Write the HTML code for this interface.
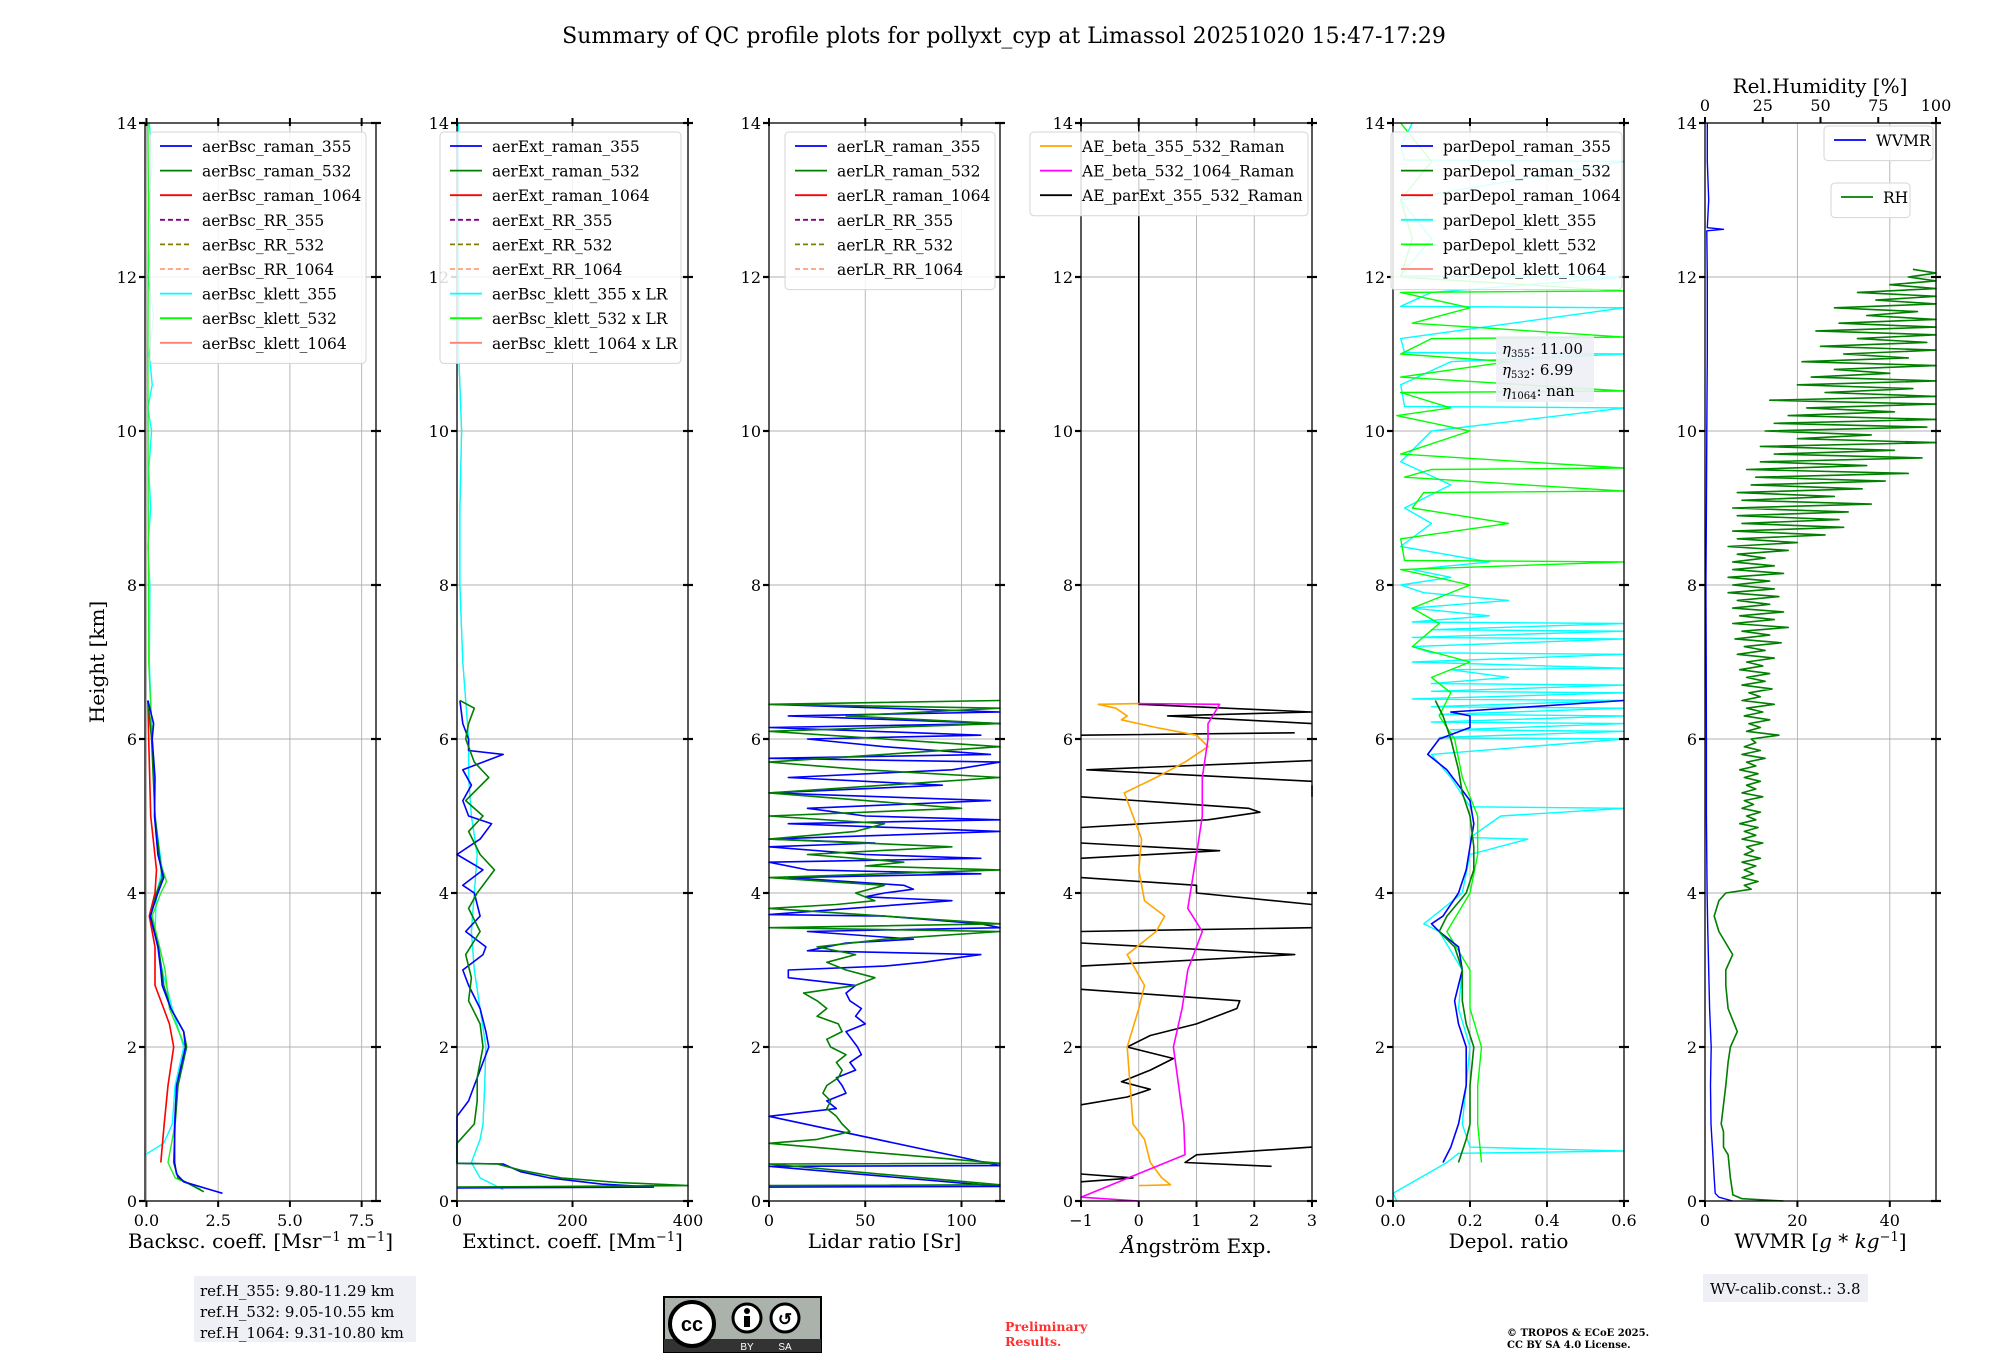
<!DOCTYPE html>
<html><head><meta charset="utf-8">
<style>
html,body{margin:0;padding:0;background:#fff;}
svg{display:block;font-family:"DejaVu Serif","Liberation Serif",serif;}
</style></head>
<body>
<svg id="fig" width="2000" height="1360" viewBox="0 0 2000 1360" xmlns="http://www.w3.org/2000/svg">
<text x="1004" y="43" font-size="22" text-anchor="middle">Summary of QC profile plots for pollyxt_cyp at Limassol 20251020 15:47-17:29</text>
<g id="plots"></g>
<rect x="194" y="1276" width="222" height="66" fill="#eef0f5"/>
<text font-size="15" x="200">
<tspan x="200" y="1296">ref.H_355: 9.80-11.29 km</tspan><tspan x="200" y="1317">ref.H_532: 9.05-10.55 km</tspan><tspan x="200" y="1338">ref.H_1064: 9.31-10.80 km</tspan></text>
<g>
<rect x="664" y="1297" width="157" height="55" fill="#aab2ab" stroke="#000" stroke-width="2"/>
<rect x="664" y="1339" width="157" height="13" fill="#333"/>
<circle cx="692" cy="1324" r="22" fill="#fff" stroke="#000" stroke-width="4"/>
<text x="692" y="1331" font-size="20" font-weight="bold" text-anchor="middle" font-family="Liberation Sans">cc</text>
<circle cx="747" cy="1318" r="14" fill="#fff" stroke="#000" stroke-width="3"/>
<circle cx="747" cy="1311" r="3"/><rect x="744" y="1316" width="6" height="11"/>
<circle cx="785" cy="1318" r="14" fill="#fff" stroke="#000" stroke-width="3"/>
<text x="785" y="1325" font-size="17" font-weight="bold" text-anchor="middle" font-family="Liberation Sans">↺</text>
<text x="747" y="1350" font-size="10" fill="#fff" text-anchor="middle" font-family="Liberation Sans">BY</text>
<text x="785" y="1350" font-size="10" fill="#fff" text-anchor="middle" font-family="Liberation Sans">SA</text>
</g>
<text x="1005" y="1331" font-size="12.5" font-weight="bold" fill="#ff3030"><tspan x="1005" y="1331">Preliminary</tspan><tspan x="1005" y="1346">Results.</tspan></text>
<text font-size="10" font-weight="bold"><tspan x="1507" y="1336">© TROPOS &amp; ECoE 2025.</tspan><tspan x="1507" y="1348">CC BY SA 4.0 License.</tspan></text>
<rect x="1703" y="1274" width="165" height="28" fill="#eef0f5"/>
<text x="1710" y="1294" font-size="15">WV-calib.const.: 3.8</text>
</svg>
<script>
const bsc355_h=[0.1,0.15,0.25,0.35,0.5,1.0,1.5,2.0,2.2,2.5,2.8,3.0,3.3,3.7,4.0,4.2,4.5,5.0,5.5,6.0,6.2,6.5];
const bsc355_v=[2.65,2.2,1.3,1.05,0.98,0.98,1.05,1.36,1.3,0.85,0.55,0.5,0.4,0.13,0.4,0.6,0.4,0.28,0.3,0.2,0.25,0.05];
const bsc532_h=[0.12,0.2,0.3,0.5,1.0,1.5,2.0,2.2,2.5,2.8,3.3,3.7,4.0,4.2,4.5,5.0,6.0,6.5];
const bsc532_v=[2.0,1.6,1.1,0.95,1.0,1.1,1.4,1.3,0.85,0.6,0.42,0.15,0.35,0.55,0.45,0.3,0.18,0.05];
const bsc1064_h=[0.5,1.0,1.5,2.0,2.3,2.5,2.8,3.3,3.7,4.0,4.3,5.0,6.0,6.5];
const bsc1064_v=[0.5,0.62,0.75,0.95,0.8,0.6,0.3,0.3,0.1,0.3,0.35,0.15,0.08,0.05];
const bsck355_h=[0.6,0.75,1.0,1.5,2.0,2.5,3.0,3.5,4.0,4.3,5.0,6.0,7.0,8.0,8.5,9.0,9.5,10.0,10.3,10.6,11.0,11.5,12.0,12.5,13.0,13.5,14.0];
const bsck355_v=[-0.05,0.6,0.9,1.0,1.3,0.9,0.55,0.3,0.35,0.55,0.3,0.2,0.1,0.12,0.05,0.15,0.08,0.18,0.05,0.2,0.1,0.25,0.05,0.15,0.1,0.2,0.1];
const bsck532_h=[0.15,0.3,0.5,0.8,1.0,1.5,2.0,2.5,3.0,3.7,4.0,4.15,4.5,5.0,6.0,7.0,9.0,11.0,13.0,14.0];
const bsck532_v=[1.9,1.0,0.75,0.9,1.0,1.05,1.35,0.8,0.65,0.2,0.5,0.7,0.4,0.3,0.2,0.08,0.06,0.05,0.07,0.05];

const ext355_h=[0.17,0.18,0.22,0.3,0.38,0.48,0.49,1.1,1.3,1.5,1.8,2.0,2.2,2.5,2.8,3.0,3.2,3.3,3.5,3.7,4.0,4.1,4.3,4.5,4.7,4.9,5.0,5.2,5.4,5.6,5.8,5.85,6.0,6.2,6.5];
const ext355_v=[0,340,250,160,110,80,0,0,20,30,45,55,50,40,20,10,45,50,15,40,30,10,45,0,40,60,20,10,25,10,80,20,20,10,5];
const ext532_h=[0.18,0.2,0.24,0.3,0.4,0.48,0.49,0.75,1.0,1.3,1.6,2.0,2.3,2.6,2.9,3.2,3.5,3.8,4.0,4.3,4.5,4.8,5.0,5.2,5.5,5.7,6.0,6.2,6.4,6.5];
const ext532_v=[0,400,280,180,110,70,0,0,30,35,35,45,40,20,25,15,40,20,35,65,40,20,45,15,55,30,15,20,30,5];
const extk_h=[0.15,0.3,0.5,0.8,1.0,1.5,2.0,2.5,3.0,3.5,4.0,4.5,5.0,5.5,6.0,7.0,8.0,9.0,10.0,11.0,12.0,13.0,14.0];
const extk_v=[80,40,25,40,45,48,50,40,30,25,30,35,25,20,20,10,5,5,8,3,3,2,2];

const lr355_h=[0.18,0.19,0.45,0.46,1.1,1.2,1.3,1.4,1.5,1.6,1.7,1.8,1.9,2.0,2.1,2.2,2.3,2.4,2.5,2.6,2.7,2.8,2.9,3.0,3.05,3.1,3.2,3.25,3.35,3.4,3.5,3.55,3.6,3.7,3.72,3.9,3.95,4.0,4.05,4.1,4.2,4.25,4.3,4.4,4.45,4.5,4.6,4.65,4.7,4.8,4.9,4.95,5.0,5.1,5.2,5.3,5.4,5.5,5.6,5.7,5.75,5.8,5.9,6.0,6.05,6.15,6.2,6.3,6.35,6.45];
const lr355_v=[0,120,0,120,0,35,30,40,38,35,45,42,48,46,43,40,50,45,48,42,40,45,10,10,60,80,110,20,40,75,20,120,110,60,0,95,50,60,75,70,10,110,20,0,110,50,0,55,0,120,10,120,50,20,115,0,90,10,95,120,0,115,60,20,110,0,120,10,120,0];
const lr532_h=[0.2,0.21,0.48,0.49,0.75,0.8,0.9,1.0,1.1,1.2,1.3,1.4,1.5,1.6,1.7,1.8,1.9,2.0,2.1,2.2,2.3,2.4,2.5,2.6,2.7,2.8,2.9,3.0,3.1,3.2,3.3,3.4,3.5,3.55,3.6,3.8,3.85,3.9,4.0,4.1,4.2,4.3,4.35,4.4,4.5,4.6,4.7,4.8,4.9,5.0,5.1,5.2,5.3,5.5,5.6,5.7,5.9,6.0,6.1,6.2,6.3,6.4,6.45,6.5];
const lr532_v=[0,120,0,120,0,25,42,38,35,30,32,28,30,36,38,35,40,32,30,38,36,25,30,25,18,45,55,40,30,45,25,60,120,0,120,0,35,55,45,60,0,120,50,70,20,95,0,45,60,0,100,50,0,120,50,0,120,60,0,120,40,120,0,120];

const aeB_h=[0.2,0.21,0.3,0.5,0.8,1.0,1.5,2.0,2.5,2.8,3.2,3.5,3.7,3.9,4.3,4.7,5.0,5.3,5.5,5.7,5.9,6.05,6.15,6.25,6.3,6.4,6.45,6.46];
const aeB_v=[0,0.55,0.4,0.2,0.1,-0.1,-0.15,-0.2,0.0,0.1,-0.2,0.3,0.45,0.1,0.0,0.05,-0.1,-0.25,0.3,0.8,1.2,1.0,0.3,-0.3,-0.2,-0.4,-0.7,0];
const aeB2_h=[0.0,0.05,0.6,1.0,2.0,2.5,3.0,3.5,3.8,4.5,5.0,5.5,6.0,6.2,6.45,6.46];
const aeB2_v=[0,-1,0.8,0.78,0.6,0.75,0.85,1.1,0.85,1.0,1.1,1.1,1.2,1.2,1.4,0];
const aeE_h=[0.25,0.3,0.35,null,0.45,0.5,0.6,0.7,null,1.25,1.35,1.45,1.55,1.7,1.85,2.0,2.15,2.3,2.5,2.6,2.75,null,3.05,3.2,3.35,null,3.5,3.55,null,3.85,4.0,4.1,4.2,null,4.45,4.55,4.65,null,4.85,4.95,5.05,5.1,5.25,null,5.25,5.4,null,5.45,5.6,5.72,null,6.05,6.08,null,6.2,6.3,6.35,6.45,14];
const aeE_v=[-1,-0.1,-1,null,2.3,0.8,1.0,3,null,-1,-0.2,0.2,-0.3,0.2,0.6,-0.2,0.2,1.0,1.7,1.75,-1,null,-1,2.7,-1,null,-1,3,null,3,1.0,1.0,-1,null,-1,1.4,-1,null,-1,1.2,2.1,1.9,-1,null,3,3,null,3,-0.9,3,null,-1,2.7,null,3,0.5,3,0,0];

const dep355_h=[0.5,0.7,1.0,1.5,2.0,2.3,2.6,3.0,3.3,3.5,3.6,3.7,4.0,4.3,4.6,4.9,5.2,5.4,5.6,5.8,6.0,6.15,6.3,6.35,6.5];
const dep355_v=[0.13,0.15,0.17,0.19,0.19,0.17,0.16,0.18,0.17,0.12,0.1,0.13,0.17,0.19,0.2,0.21,0.2,0.17,0.14,0.09,0.12,0.2,0.2,0.15,0.6];
const dep532_h=[0.5,0.8,1.0,1.5,2.0,2.3,2.6,3.0,3.3,3.5,3.7,4.0,4.3,4.6,5.0,5.3,5.6,6.0,6.3,6.5];
const dep532_v=[0.17,0.19,0.2,0.2,0.21,0.19,0.18,0.18,0.16,0.12,0.14,0.19,0.21,0.21,0.2,0.18,0.17,0.15,0.13,0.11];
const depk355_h=[0.0,0.1,0.5,0.62,0.65,0.7,1.0,1.5,2.0,2.5,3.0,3.5,3.6,4.0,4.5,4.7,4.72,5.0,5.1,5.12,5.5,5.8,6.0,6.02,6.1,6.12,6.2,6.22,6.3,6.32,6.4,6.42,6.5,6.52,6.6,6.62,6.7,6.72,6.8,6.9,6.92,7.0,7.1,7.12,7.2,7.3,7.32,7.4,7.42,7.5,7.52,7.6,7.7,7.8,7.9,8.0,8.1,8.2,8.3,8.5,8.8,9.0,9.3,9.6,10.0,10.3,10.32,10.6,10.9,11.0,11.02,11.2,11.6,11.62,11.8,12.0,12.02,12.5,13.0,13.5,13.52,13.7,14.0];
const depk355_v=[0.01,0.0,0.14,0.17,0.6,0.2,0.18,0.19,0.2,0.17,0.18,0.12,0.08,0.18,0.2,0.35,0.2,0.28,0.6,0.2,0.15,0.1,0.6,0.12,0.6,0.15,0.6,0.1,0.6,0.12,0.6,0.1,0.6,0.05,0.6,0.1,0.6,0.1,0.3,0.15,0.6,0.05,0.6,0.1,0.05,0.6,0.05,0.6,0.1,0.6,0.05,0.25,0.05,0.3,0.08,0.02,0.15,0.05,0.25,0.02,0.1,0.03,0.15,0.02,0.1,0.6,0.03,0.02,0.15,0.6,0.03,0.02,0.6,0.02,0.1,0.6,0.02,0.1,0.02,0.6,0.03,0.02,0.05];
const depk532_h=[0.5,1.0,1.5,2.0,2.5,3.0,3.5,4.0,4.5,5.0,5.5,6.0,6.3,6.6,6.8,7.0,7.2,7.5,7.7,8.0,8.2,8.3,8.32,8.6,8.8,9.0,9.2,9.22,9.4,9.5,9.52,9.7,10.0,10.2,10.3,10.5,10.52,10.7,10.9,11.0,11.2,11.22,11.4,11.6,11.8,11.82,12.0,12.5,13.0,13.5,14.0];
const depk532_v=[0.23,0.22,0.22,0.23,0.2,0.2,0.14,0.2,0.22,0.22,0.18,0.16,0.12,0.15,0.1,0.2,0.05,0.12,0.05,0.2,0.02,0.6,0.03,0.02,0.3,0.05,0.08,0.6,0.03,0.1,0.6,0.02,0.2,0.01,0.15,0.02,0.6,0.02,0.3,0.02,0.1,0.6,0.05,0.2,0.02,0.6,0.02,0.05,0.02,0.1,0.02];

const wvmr_h=[0.0,0.05,0.1,0.3,0.6,0.8,1.0,1.5,2.0,2.5,3.0,3.5,4.0,5.0,6.0,7.0,8.0,9.0,10.0,11.0,12.0,12.6,12.62,12.64,13.0,13.5,14.0];
const wvmr_v=[6,3,2.2,2.0,1.7,1.5,1.3,1.2,1.35,1.0,0.8,0.6,0.45,0.3,0.3,0.25,0.2,0.3,0.4,0.5,0.5,0.4,4.0,0.5,0.8,0.5,0.5];
const rh_h=[0.0,0.03,0.08,0.1,0.3,0.6,0.7,0.9,1.0,1.5,1.8,2.0,2.2,2.5,2.8,3.0,3.2,3.5,3.7,3.9,4.0,4.05,4.1,4.15,4.2,4.25,4.3,4.35,4.4,4.45,4.5,4.55,4.6,4.65,4.7,4.75,4.8,4.85,4.9,4.95,5.0,5.05,5.1,5.15,5.2,5.25,5.3,5.35,5.4,5.45,5.5,5.55,5.6,5.65,5.7,5.75,5.8,5.85,5.9,5.95,6.0,6.05,6.1,6.15,6.2,6.25,6.3,6.35,6.4,6.45,6.5,6.55,6.6,6.65,6.7,6.75,6.8,6.85,6.9,6.95,7.0,7.05,7.1,7.15,7.2,7.25,7.3,7.35,7.4,7.45,7.5,7.55,7.6,7.65,7.7,7.75,7.8,7.85,7.9,7.95,8.0,8.05,8.1,8.15,8.2,8.25,8.3,8.35,8.4,8.45,8.5,8.55,8.6,8.65,8.7,8.75,8.8,8.85,8.9,8.95,9.0,9.05,9.1,9.15,9.2,9.25,9.3,9.35,9.4,9.45,9.5,9.55,9.6,9.65,9.7,9.75,9.8,9.85,9.9,9.95,10.0,10.05,10.1,10.15,10.2,10.25,10.3,10.35,10.4,10.45,10.5,10.55,10.6,10.65,10.7,10.75,10.8,10.85,10.9,10.95,11.0,11.05,11.1,11.15,11.2,11.25,11.3,11.35,11.4,11.45,11.5,11.55,11.6,11.65,11.7,11.75,11.8,11.85,11.9,11.95,12.0,12.05,12.1,12.15,12.2];
const rh_v=[34,16,12,12,11,10,8,8,7,9,10,11,14,10,9,9,12,6,4,6,9,20,17,23,16,21,17,22,16,24,17,21,18,25,16,22,17,23,15,22,18,24,16,21,17,25,16,22,18,24,17,23,15,22,18,26,16,24,17,22,20,32,18,24,19,28,17,25,18,30,16,24,19,29,16,26,18,28,15,25,18,30,14,26,17,33,13,28,16,36,12,30,15,34,12,28,14,32,10,30,12,28,10,34,12,30,12,26,14,36,10,40,14,52,12,60,16,58,14,62,12,72,16,56,14,68,20,78,22,88,18,70,24,94,30,82,24,100,40,72,26,96,30,100,36,82,44,100,28,100,52,90,40,100,46,80,56,100,42,88,60,100,50,96,66,100,48,100,58,100,70,92,56,100,74,100,66,100,80,100,88,100,90];

const Y0=1201, PXKM=77;
function yS(h){return Y0-h*PXKM;}
const panels=[
 {x:145,lo:-0.05,hi:8,ticks:[0,2.5,5,7.5],tl:['0.0','2.5','5.0','7.5'],label:'Backsc. coeff. [Msr<tspan baseline-shift="super" font-size="13">−1</tspan> m<tspan baseline-shift="super" font-size="13">−1</tspan>]'},
 {x:457,lo:0,hi:400,ticks:[0,200,400],tl:['0','200','400'],label:'Extinct. coeff. [Mm<tspan baseline-shift="super" font-size="13">−1</tspan>]'},
 {x:769,lo:0,hi:120,ticks:[0,50,100],tl:['0','50','100'],label:'Lidar ratio [Sr]'},
 {x:1081,lo:-1,hi:3,ticks:[-1,0,1,2,3],tl:['−1','0','1','2','3'],label:'<tspan font-style="italic">Å</tspan>ngström Exp.'},
 {x:1393,lo:0,hi:0.6,ticks:[0,0.2,0.4,0.6],tl:['0.0','0.2','0.4','0.6'],label:'Depol. ratio'},
 {x:1705,lo:0,hi:50,ticks:[0,20,40],tl:['0','20','40'],label:'WVMR [<tspan font-style="italic">g</tspan> * <tspan font-style="italic">kg</tspan><tspan baseline-shift="super" font-size="13">−1</tspan>]'}
];
const W=231;
const NS='http://www.w3.org/2000/svg';
const root=document.getElementById('plots');
function mk(tag,attrs,parent){const e=document.createElementNS(NS,tag);for(const k in attrs)e.setAttribute(k,attrs[k]);(parent||root).appendChild(e);return e;}
function xS(p,v){return p.x+(v-p.lo)/(p.hi-p.lo)*W;}
function clampX(p,v){return Math.max(p.x,Math.min(p.x+W,xS(p,v)));}
function series(p,hs,vs,color,name,width,dash,g){
  let d='',pen=false;
  for(let i=0;i<hs.length;i++){
    if(hs[i]===null||vs[i]===null){pen=false;continue;}
    d+=(pen?'L':'M')+clampX(p,vs[i]).toFixed(1)+' '+yS(hs[i]).toFixed(1)+' ';pen=true;
  }
  const e=mk('path',{d:d,fill:'none',stroke:color,'stroke-width':width||1.6,'stroke-linejoin':'round'},g);
  if(dash)e.setAttribute('stroke-dasharray',dash);
  
  
  return e;
}
const yt=[0,2,4,6,8,10,12,14];
const gs=[];
panels.forEach((p,i)=>{
  const g=mk('g',{});
  
  
  gs.push(g);
  yt.forEach(t=>{if(t>0&&t<14){const l=mk('line',{x1:p.x,x2:p.x+W,y1:yS(t),y2:yS(t),stroke:'#b0b0b0','stroke-width':0.9},g);}});
  p.ticks.forEach(t=>{const X=xS(p,t);if(X>p.x+1&&X<p.x+W-1){const l=mk('line',{x1:X,x2:X,y1:yS(14),y2:Y0,stroke:'#b0b0b0','stroke-width':0.9},g);}});
});
const P=panels;
series(P[0],bsck355_h,bsck355_v,'#00ffff','aerbsc-klett-355-line',1.4,null,gs[0]);
series(P[0],bsck532_h,bsck532_v,'#22ee22','aerbsc-klett-532-line',1.4,null,gs[0]);
series(P[0],bsc1064_h,bsc1064_v,'#ff8070','aerbsc-klett-1064-line',1.2,null,gs[0]);
series(P[0],bsc1064_h,bsc1064_v,'#ff0000','aerbsc-raman-1064-line',1.6,null,gs[0]);
series(P[0],bsc532_h,bsc532_v,'#007f00','aerbsc-raman-532-line',1.6,null,gs[0]);
series(P[0],bsc355_h,bsc355_v,'#0000ff','aerbsc-raman-355-line',1.6,null,gs[0]);
series(P[1],extk_h,extk_v,'#ff8070','aerbsc-klett-1064-lr-line',1.2,null,gs[1]);
series(P[1],extk_h,extk_v,'#00ffff','aerbsc-klett-355-lr-line',1.4,null,gs[1]);
series(P[1],ext355_h,ext355_v,'#0000ff','aerext-raman-355-line',1.6,null,gs[1]);
series(P[1],ext532_h,ext532_v,'#007f00','aerext-raman-532-line',1.6,null,gs[1]);
series(P[2],lr355_h,lr355_v,'#0000ff','aerlr-raman-355-line',1.6,null,gs[2]);
series(P[2],lr532_h,lr532_v,'#007f00','aerlr-raman-532-line',1.6,null,gs[2]);
series(P[3],aeE_h,aeE_v,'#000000','ae-parext-355-532-line',1.6,null,gs[3]);
series(P[3],aeB_h,aeB_v,'#ffa500','ae-beta-355-532-line',1.6,null,gs[3]);
series(P[3],aeB2_h,aeB2_v,'#ff00ff','ae-beta-532-1064-line',1.6,null,gs[3]);
series(P[4],depk355_h,depk355_v,'#00ffff','pardepol-klett-355-line',1.4,null,gs[4]);
series(P[4],depk532_h,depk532_v,'#00ff00','pardepol-klett-532-line',1.4,null,gs[4]);
series(P[4],dep355_h,dep355_v,'#0000ff','pardepol-raman-355-line',1.6,null,gs[4]);
series(P[4],dep532_h,dep532_v,'#007f00','pardepol-raman-532-line',1.6,null,gs[4]);
series(P[5],wvmr_h,wvmr_v,'#0000ff','wvmr-line',1.4,null,gs[5]);
const rhP={x:1705,lo:0,hi:100};
series(rhP,rh_h,rh_v,'#007f00','rh-line',1.6,null,gs[5]);

panels.forEach((p,i)=>{
  const g=gs[i];
  const fr=mk('rect',{x:p.x,y:yS(14),width:W,height:Y0-yS(14),fill:'none',stroke:'#000','stroke-width':1.3},g);
  
  yt.forEach(t=>{
    mk('line',{x1:p.x-6,x2:p.x,y1:yS(t),y2:yS(t),stroke:'#000','stroke-width':2.2},g);
    mk('line',{x1:p.x+W-5,x2:p.x+W+5,y1:yS(t),y2:yS(t),stroke:'#000','stroke-width':2.2},g);
    const tx=mk('text',{x:p.x-8,y:yS(t)+6,'font-size':16,'text-anchor':'end'},g);tx.textContent=t;
    
  });
  p.ticks.forEach((t,k)=>{
    const X=xS(p,t);
    mk('line',{x1:X,x2:X,y1:Y0,y2:Y0+6,stroke:'#000','stroke-width':2},g);
    if(i<5)mk('line',{x1:X,x2:X,y1:yS(14)-5,y2:yS(14)+3,stroke:'#000','stroke-width':2},g);
    const tx=mk('text',{x:X,y:Y0+25,'font-size':16,'text-anchor':'middle'},g);tx.textContent=p.tl[k];
    
  });
  const lb=mk('text',{x:p.x+W/2,y:(i==3?1253:1248),'font-size':20,'text-anchor':'middle'},g);
  lb.innerHTML=p.label;
  
});
[0,25,50,75,100].forEach(t=>{
  const Xp=1705+t/100*W;
  mk('line',{x1:Xp,x2:Xp,y1:yS(14)-6,y2:yS(14),stroke:'#000','stroke-width':2},gs[5]);
  const tx=mk('text',{x:Xp,y:yS(14)-12,'font-size':16,'text-anchor':'middle'},gs[5]);tx.textContent=t;
  
});
const rhT=mk('text',{x:1820,y:93,'font-size':20,'text-anchor':'middle'},gs[5]);rhT.textContent='Rel.Humidity [%]';

const yT=mk('text',{x:0,y:0,'font-size':20,'text-anchor':'middle',transform:'translate(104,662) rotate(-90)'});yT.textContent='Height [km]';


function legend(x,y,w,entries,name){
  const g=mk('g',{});
  
  
  const h=entries.length*24.6+10;
  mk('rect',{x:x,y:y,width:w,height:h,rx:4,fill:'#fff','fill-opacity':0.85,stroke:'#d5d5d5'},g);
  entries.forEach((e,k)=>{
    const yy=y+14+k*24.6;
    const l=mk('line',{x1:x+10,x2:x+42,y1:yy,y2:yy,stroke:e[1],'stroke-width':1.8},g);
    if(e[2])l.setAttribute('stroke-dasharray','5 3');
    const t=mk('text',{x:x+52,y:yy+6,'font-size':15.5},g);t.textContent=e[0];
    
  });
}
const cols=['#0000ff','#007f00','#ff0000','#800080','#808000','#ffa07a','#00ffff','#00ff00','#ff8070'];
const dsh=[0,0,0,1,1,1,0,0,0];
legend(150,132,216,['aerBsc_raman_355','aerBsc_raman_532','aerBsc_raman_1064','aerBsc_RR_355','aerBsc_RR_532','aerBsc_RR_1064','aerBsc_klett_355','aerBsc_klett_532','aerBsc_klett_1064'].map((n,k)=>[n,cols[k],dsh[k]]),'legend-backscatter');
legend(440,132,241,['aerExt_raman_355','aerExt_raman_532','aerExt_raman_1064','aerExt_RR_355','aerExt_RR_532','aerExt_RR_1064','aerBsc_klett_355 x LR','aerBsc_klett_532 x LR','aerBsc_klett_1064 x LR'].map((n,k)=>[n,cols[k],dsh[k]]),'legend-extinction');
legend(785,132,210,['aerLR_raman_355','aerLR_raman_532','aerLR_raman_1064','aerLR_RR_355','aerLR_RR_532','aerLR_RR_1064'].map((n,k)=>[n,cols[k],dsh[k]]),'legend-lidar-ratio');
legend(1030,132,278,[['AE_beta_355_532_Raman','#ffa500'],['AE_beta_532_1064_Raman','#ff00ff'],['AE_parExt_355_532_Raman','#000000']],'legend-angstrom');
legend(1391,132,231,[['parDepol_raman_355','#0000ff'],['parDepol_raman_532','#007f00'],['parDepol_raman_1064','#ff0000'],['parDepol_klett_355','#00ffff'],['parDepol_klett_532','#00ff00'],['parDepol_klett_1064','#ff8070']],'legend-depol');
legend(1824,126,109,[['WVMR','#0000ff']],'legend-wvmr');
legend(1831,183,79,[['RH','#007f00']],'legend-rh');
const eg=mk('g',{});
mk('rect',{x:1496,y:336,width:98,height:66,fill:'#eef0f5','fill-opacity':0.9},eg);
[['355','11.00'],['532','6.99'],['1064','nan']].forEach((r,k)=>{
  const t=mk('text',{x:1502,y:354+k*21,'font-size':15},eg);
  t.innerHTML='<tspan font-style="italic">η</tspan><tspan font-size="10" dy="3">'+r[0]+'</tspan><tspan dy="-3">: '+r[1]+'</tspan>';
});
</script>
</body></html>
